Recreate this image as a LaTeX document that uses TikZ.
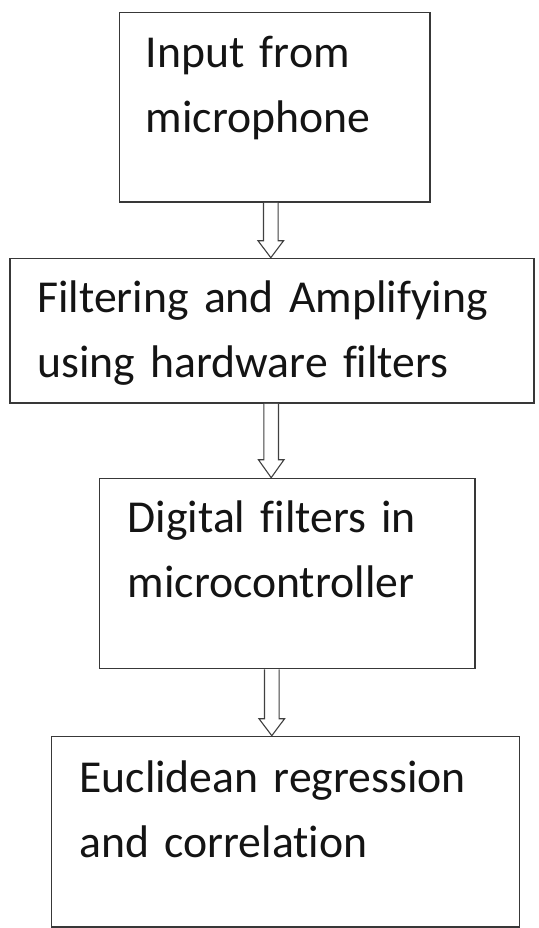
\documentclass[tikz,border=0pt]{standalone}
\usepackage{fontspec}
\setmainfont{Carlito}[Ligatures={NoCommon}]
\usetikzlibrary{calc}
\begin{document}
\begin{tikzpicture}[x=1pt,y=-1pt,
  stagebox/.style={draw=black!78, line width=1.6pt, fill=white, rectangle, inner sep=0pt},
  stagetext/.style={anchor=base west, inner sep=0pt, text width=500pt, align=left,
    font=\fontsize{45.7}{65}\selectfont, text=black!92},
  blockarrow/.style={draw=black!75, line width=1.1pt, fill=white, line join=miter}]
\useasboundingbox[fill=white] (0,0) rectangle (538,928);
% boxes
\node[stagebox, minimum width=310.5pt, minimum height=189.3pt] (b1) at (274.75,107.35) {};
\node[stagebox, minimum width=524pt, minimum height=144.5pt] (b2) at (272,330.75) {};
\node[stagebox, minimum width=375.7pt, minimum height=190pt] (b3) at (287.15,573.5) {};
\node[stagebox, minimum width=467.7pt, minimum height=190.5pt] (b4) at (285.45,831.75) {};
% texts
\node[stagetext] (t1) at ($(b1.north west)+(27,55.6)$) {Input from\\microphone};
\node[stagetext] (t2) at ($(b2.north west)+(28,55)$) {Filtering and Amplifying\\using hardware filters};
\node[stagetext] (t3) at ($(b3.north west)+(29,55)$) {Digital filters in\\microcontroller};
\node[stagetext] (t4) at ($(b4.north west)+(28.4,56.8)$) {Euclidean regression\\and correlation};
% arrow axes
\coordinate (ax1) at (270.8,0);
\coordinate (ax2) at (271.2,0);
\coordinate (ax3) at (271.8,0);
% hollow block arrows
\draw[blockarrow] ($(ax1 |- b1.south)+(-7.3,0)$) -- ($(ax1 |- b2.north)+(-7.3,-17)$)
  -- ($(ax1 |- b2.north)+(-12.8,-17)$) -- (ax1 |- b2.north) -- ($(ax1 |- b2.north)+(12.8,-17)$)
  -- ($(ax1 |- b2.north)+(7.3,-17)$) -- ($(ax1 |- b1.south)+(7.3,0)$);
\draw[blockarrow] ($(ax2 |- b2.south)+(-7.3,0)$) -- ($(ax2 |- b3.north)+(-7.3,-18)$)
  -- ($(ax2 |- b3.north)+(-12.8,-18)$) -- (ax2 |- b3.north) -- ($(ax2 |- b3.north)+(12.8,-18)$)
  -- ($(ax2 |- b3.north)+(7.3,-18)$) -- ($(ax2 |- b2.south)+(7.3,0)$);
\draw[blockarrow] ($(ax3 |- b3.south)+(-7.3,0)$) -- ($(ax3 |- b4.north)+(-7.3,-17)$)
  -- ($(ax3 |- b4.north)+(-12.8,-17)$) -- (ax3 |- b4.north) -- ($(ax3 |- b4.north)+(12.8,-17)$)
  -- ($(ax3 |- b4.north)+(7.3,-17)$) -- ($(ax3 |- b3.south)+(7.3,0)$);
\end{tikzpicture}
\end{document}
